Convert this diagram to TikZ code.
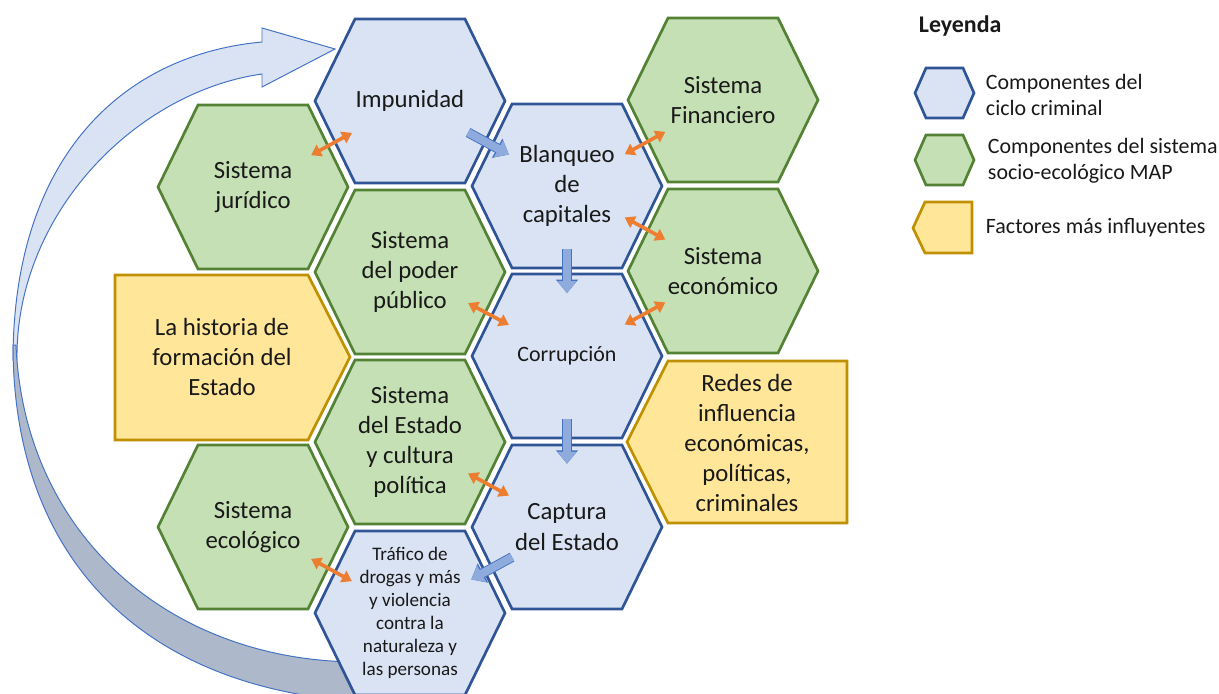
\documentclass[tikz,border=0pt]{standalone}
\usepackage{fontspec}
\setmainfont{Carlito}
\usetikzlibrary{arrows.meta,calc}
\definecolor{cicloFill}{HTML}{DAE3F3}
\definecolor{cicloLine}{HTML}{2F5597}
\definecolor{socFill}{HTML}{C5E0B4}
\definecolor{socLine}{HTML}{548235}
\definecolor{facFill}{HTML}{FFE699}
\definecolor{facLine}{HTML}{BF9000}
\definecolor{relOrange}{HTML}{ED7D31}
\definecolor{flowFill}{HTML}{8FAADC}
\definecolor{flowLine}{HTML}{4472C4}
\definecolor{backFill}{HTML}{ADB9CA}

\begin{document}
\begin{tikzpicture}[x=0.025cm, y=-0.025cm,
    ciclo/.style={draw=cicloLine, fill=cicloFill, line width=1.9pt},
    soc/.style={draw=socLine, fill=socFill, line width=1.9pt},
    factor/.style={draw=facLine, fill=facFill, line width=1.9pt},
    txt/.style={align=center, text=black!90, font=\fontsize{17.6}{21.5}\selectfont},
    txtmid/.style={txt, font=\fontsize{15.6}{19}\selectfont},
    txtsmall/.style={txt, font=\fontsize{13.6}{16.4}\selectfont},
    legtxt/.style={anchor=west, align=left, text=black!90, font=\fontsize{15.6}{18.5}\selectfont},
    rel/.style={draw=relOrange, line width=2.6pt,
        {Triangle[width=9pt,length=7pt]}-{Triangle[width=9pt,length=7pt]}},
    flow/.style={draw=flowFill, line width=5.7pt, -{Triangle[width=13pt,length=8.5pt]},
        preaction={draw=flowLine, line width=7pt, -{Triangle[width=15pt,length=9.5pt]}}},
    turn/.style={draw=flowLine, line width=0.7pt}]
\useasboundingbox (0,0) rectangle (1219,693);
\clip (0,0) rectangle (1219,693);

\filldraw[turn, fill=cicloFill] (13,360) .. controls (13,160) and (120,55) .. (262,42)
    -- (262,28) -- (335,49) -- (262,87) -- (262,74)
    .. controls (135,92) and (15,215) .. (17,360) -- cycle;
\filldraw[turn, fill=backFill] (13,345) .. controls (13,565) and (150,692) .. (370,702)
    -- (370,664) -- (360,662) .. controls (170,662) and (24,535) .. (16,345) -- cycle;

\foreach \n/\x/\y/\sty/\fnt/\lab in {
    imp/410/101/ciclo/txt/Impunidad,
    jur/253/187/soc/txt/{Sistema\\jurídico},
    blq/567/186/ciclo/txt/{Blanqueo\\de\\capitales},
    fin/723/100/soc/txt/{Sistema\\Financiero},
    pod/410/272/soc/txt/{Sistema\\del poder\\público},
    eco/723/271/soc/txt/{Sistema\\económico},
    cor/567/356/ciclo/txtmid/Corrupción,
    est/410/442/soc/txt/{Sistema\\del Estado\\y cultura\\política},
    cap/567/527/ciclo/txt/{Captura\\del Estado},
    ecl/253/527/soc/txt/{Sistema\\ecológico},
    tra/410/613/ciclo/txtsmall/{Tráfico de\\drogas y más\\y violencia\\contra la\\naturaleza y\\las personas}}
{
    \draw[\sty] (\x,\y) ++(-95,0) -- ++(40,-82) -- ++(110,0) -- ++(40,82)
        -- ++(-40,82) -- ++(-110,0) -- cycle;
    \node[\fnt] (\n) at (\x,\y) {\lab};
}

\draw[factor] (115,275) -- (308,275) -- (350,357) -- (308,440) -- (115,440) -- cycle;
\node[txt] (his) at (222,357) {La historia de\\formación del\\Estado};
\draw[factor] (847,361) -- (668,361) -- (627,442) -- (668,523) -- (847,523) -- cycle;
\node[txt] (red) at (747,443) {Redes de\\influencia\\económicas,\\políticas,\\criminales};

\foreach \a/\b in {jur/imp, blq/fin, blq/eco, cor/eco, pod/cor, est/cap, ecl/tra}
    \draw[rel] ($(\a)!0.37!(\b)$) -- ($(\a)!0.63!(\b)$);
\foreach \a/\b in {imp/blq, blq/cor, cor/cap}
    \draw[flow] ($(\a)!0.37!(\b)$) -- ($(\a)!0.63!(\b)$);
\draw[flow] ($(cap)!0.35!(tra)$) -- ($(cap)!0.61!(tra)$);

\node[legtxt, font=\bfseries\fontsize{17}{20}\selectfont] (ley) at (914,26) {Leyenda};
\draw[ciclo] (945,93) ++(-30,0) -- ++(11,-25) -- ++(37,0) -- ++(11,25) -- ++(-11,25) -- ++(-37,0) -- cycle;
\node[legtxt] (lciclo) at (981,95) {Componentes del\\ciclo criminal};
\draw[soc] (945,160) ++(-30,0) -- ++(11,-25) -- ++(37,0) -- ++(11,25) -- ++(-11,25) -- ++(-37,0) -- cycle;
\node[legtxt] (lsoc) at (983,161) {Componentes del sistema\\socio-ecológico MAP};
\draw[factor] (972,202) -- (925,202) -- (913,228) -- (925,253) -- (972,253) -- cycle;
\node[legtxt] (lfac) at (981,228) {Factores más influyentes};
\end{tikzpicture}
\end{document}
